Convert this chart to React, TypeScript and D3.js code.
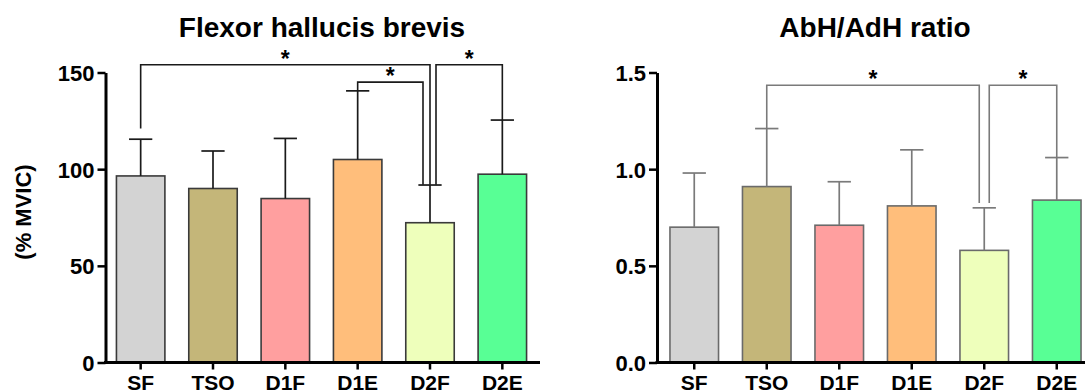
import React, { Component } from 'react';
import * as d3 from 'd3';

// categories / values
const categories = ['SF', 'TSO', 'D1F', 'D1E', 'D2F', 'D2E'];
const barColors = ['#d3d3d3', '#c4b679', '#ff9f9f', '#ffbe7b', '#eeffbb', '#58ff95'];

const fhbMean = [96.5, 90, 84.8, 105, 72.3, 97.4];
const fhbSd = [19, 19.4, 31.1, 35.5, 19.5, 28];
const fhbTicks = [0, 50, 100, 150];

const ratioMean = [0.70, 0.91, 0.71, 0.81, 0.58, 0.84];
const ratioSd = [0.28, 0.30, 0.225, 0.29, 0.22, 0.22];
const ratioTicks = [0, 0.5, 1.0, 1.5];

// significance brackets: from/to category, level of the bar, where each leg stops
const fhbBrackets = [
  { from: 'SF', to: 'D2F', level: 154, fromEnd: 121, toEnd: 92 },
  { from: 'D1E', to: 'D2F', level: 145, fromEnd: 140.5, toEnd: 92 },
  { from: 'D2F', to: 'D2E', level: 154, fromEnd: 92, toEnd: 125.4 }
];
const ratioBrackets = [
  { from: 'TSO', to: 'D2F', level: 1.434, fromEnd: 1.21, toEnd: 0.825 },
  { from: 'D2F', to: 'D2E', level: 1.434, fromEnd: 0.825, toEnd: 1.062 }
];

const FONT = '"Liberation Sans", Arial, sans-serif';

class App extends Component {
  ref = React.createRef<SVGSVGElement>();

  componentDidMount() {
    this.draw();
  }

  draw() {
    const svg = d3.select(this.ref.current);
    svg.selectAll('*').remove();

    const panels = [
      {
        title: 'Flexor hallucis brevis', titleX: 322, x0: 104.5, x1: 538.5, axisX: 105.5, axisEnd: 540,
        mean: fhbMean, sd: fhbSd, ticks: fhbTicks, max: 150, fmt: d3.format('d'),
        brackets: fhbBrackets, nudge: [[0, 0], [0, -7], [6, 0]],
        line: '#1a1a1a', barStroke: '#3a3a3a'
      },
      {
        title: 'AbH/AdH ratio', titleX: 875, x0: 658, x1: 1093, axisX: 657, axisEnd: 1093,
        mean: ratioMean, sd: ratioSd, ticks: ratioTicks, max: 1.5, fmt: d3.format('.1f'),
        brackets: ratioBrackets, nudge: [[0, -5], [5, 0]],
        line: '#7a7a7a', barStroke: '#6a6a6a'
      }
    ];

    panels.forEach(p => {
      const x = d3.scaleBand().domain(categories).range([p.x0, p.x1])
        .paddingInner(0.33).paddingOuter(0.165);
      const y = d3.scaleLinear().domain([0, p.max]).range([362.5, 72.5]);
      const g = svg.append('g');
      const cx = (c: string) => (x(c) as number) + x.bandwidth() / 2;

      // title
      g.append('text')
        .attr('x', p.titleX).attr('y', 37)
        .attr('text-anchor', 'middle')
        .attr('font-family', FONT).attr('font-weight', 'bold').attr('font-size', 28)
        .text(p.title);

      // bars
      g.selectAll('rect.bar').data(p.mean).enter().append('rect')
        .attr('x', (d, i) => x(categories[i]) as number)
        .attr('y', d => y(d))
        .attr('width', x.bandwidth())
        .attr('height', d => y(0) - y(d))
        .attr('fill', (d, i) => barColors[i])
        .attr('stroke', p.barStroke)
        .attr('stroke-width', 1.6);

      // error bars (upper only)
      const cap = x.bandwidth() * 0.24;
      p.mean.forEach((m, i) => {
        const c = cx(categories[i]);
        g.append('line').attr('x1', c).attr('x2', c).attr('y1', y(m)).attr('y2', y(m + p.sd[i]))
          .attr('stroke', p.line).attr('stroke-width', 1.7);
        g.append('line').attr('x1', c - cap).attr('x2', c + cap)
          .attr('y1', y(m + p.sd[i])).attr('y2', y(m + p.sd[i]))
          .attr('stroke', p.line).attr('stroke-width', 1.7);
      });

      // brackets
      p.brackets.forEach((b, k) => {
        const xa = cx(b.from) + p.nudge[k][0];
        const xb = cx(b.to) + p.nudge[k][1];
        const pts: [number, number][] = [[xa, y(b.fromEnd)], [xa, y(b.level)], [xb, y(b.level)], [xb, y(b.toEnd)]];
        g.append('path').attr('d', d3.line()(pts))
          .attr('fill', 'none').attr('stroke', p.line).attr('stroke-width', 1.6);
        g.append('text')
          .attr('x', (xa + xb) / 2).attr('y', y(b.level) + 2)
          .attr('text-anchor', 'middle')
          .attr('font-family', FONT).attr('font-weight', 'bold').attr('font-size', 23)
          .text('*');
      });

      // y axis
      const yAxis = g.append('g')
        .attr('transform', `translate(${p.axisX},0)`)
        .call(d3.axisLeft(y).tickValues(p.ticks).tickFormat(p.fmt as any).tickSize(8).tickSizeOuter(0).tickPadding(3));
      yAxis.select('.domain').attr('stroke', '#000').attr('stroke-width', 3);
      yAxis.selectAll('.tick line').attr('stroke', '#000').attr('stroke-width', 2.5);
      yAxis.selectAll('.tick text')
        .attr('font-family', FONT).attr('font-weight', 'bold').attr('font-size', 22)
        .attr('fill', '#000').attr('dy', '0.36em');

      // x axis
      const xAxis = g.append('g')
        .attr('transform', `translate(0,${y(0)})`)
        .call(d3.axisBottom(x).tickSize(7).tickSizeOuter(0).tickPadding(6));
      xAxis.select('.domain').attr('d', `M${p.axisX - 1.5},0H${p.axisEnd}`)
        .attr('stroke', '#000').attr('stroke-width', 3);
      xAxis.selectAll('.tick line').attr('stroke', '#000').attr('stroke-width', 2.5);
      xAxis.selectAll('.tick text')
        .attr('font-family', FONT).attr('font-weight', 'bold').attr('font-size', 21)
        .attr('fill', '#000').attr('dy', '0.71em');
    });

    // y label, left panel only
    svg.append('text')
      .attr('transform', 'translate(31,212) rotate(-90)')
      .attr('text-anchor', 'middle')
      .attr('font-family', FONT).attr('font-weight', 'bold').attr('font-size', 22)
      .text('(% MVIC)');
  }

  render() {
    return (
      <svg ref={this.ref} width={1085} height={392}
        style={{ position: 'absolute', left: 0, top: 0, background: '#fff' }} />
    );
  }
}

export default App;
